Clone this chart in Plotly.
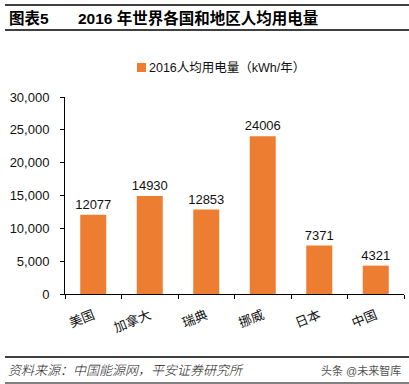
import plotly.graph_objects as go

categories = ["美国", "加拿大", "瑞典", "挪威", "日本", "中国"]
values = [12077, 14930, 12853, 24006, 7371, 4321]
series_name = "2016人均用电量（kWh/年）"
y_ticks = [0, 5000, 10000, 15000, 20000, 25000, 30000]

FONT = "Liberation Sans, Arial, Noto Sans CJK SC, sans-serif"
ORANGE = "#ED7D31"

W, H = 409, 384
ML, MR, MT, MB = 65, 5, 97, 90
PW, PH = W - ML - MR, H - MT - MB

def px(x):
    return (x - ML) / PW

def py(y):
    return (H - MB - y) / PH

fig = go.Figure()
fig.add_trace(go.Bar(
    x=categories, y=values, name=series_name,
    marker=dict(color=ORANGE, line=dict(width=0)),
    width=0.46,
    text=[str(v) for v in values], textposition="outside",
    textfont=dict(size=13, color="#111111"),
    constraintext="none",
    cliponaxis=False,
    showlegend=False,
))

fig.update_layout(
    width=W, height=H,
    margin=dict(l=ML, r=MR, t=MT, b=MB, autoexpand=False),
    paper_bgcolor="white", plot_bgcolor="white",
    font=dict(family=FONT, size=13, color="#111111"),
    showlegend=False,
    xaxis=dict(showline=True, linecolor="#000000", linewidth=1, ticks="outside",
               tickson="boundaries", ticklen=4, tickcolor="#000000",
               tickangle=-22, tickfont=dict(size=13), showgrid=False, automargin=False,
               ticklabelstandoff=8),
    yaxis=dict(range=[0, 30000], tickvals=y_ticks, tickformat=",", showline=True,
               linecolor="#000000", linewidth=1, ticks="outside", ticklen=4,
               tickcolor="#000000", showgrid=False, zeroline=False,
               tickfont=dict(size=13), ticklabelstandoff=8, automargin=False),
    bargap=0.5,
)

shapes = []
for y, w in [(5, 1.5), (30, 1.5), (357, 1.5), (383, 1.0)]:
    shapes.append(dict(type="line", xref="paper", yref="paper",
                       x0=px(5), x1=px(409), y0=py(y), y1=py(y),
                       line=dict(color="#000000", width=w)))
# legend swatch
shapes.append(dict(type="rect", xref="paper", yref="paper",
                   x0=px(137), x1=px(146), y0=py(63), y1=py(72),
                   fillcolor=ORANGE, line=dict(width=0)))
fig.update_layout(shapes=shapes)

ann = [
    dict(text="<b>图表5</b>", x=px(7), y=py(18), xanchor="left", yanchor="middle",
         font=dict(size=15.5, color="#000000")),
    dict(text="<b>2016 年世界各国和地区人均用电量</b>", x=px(76), y=py(18), xanchor="left",
         yanchor="middle", font=dict(size=15.5, color="#000000")),
    dict(text=series_name, x=px(147), y=py(67.5), xanchor="left", yanchor="middle",
         font=dict(size=12.5, color="#111111")),
    dict(text="<i>资料来源：中国能源网，平安证券研究所</i>", x=px(6), y=py(370), xanchor="left",
         yanchor="middle", font=dict(size=13, color="#1a1a1a", weight=300)),
    dict(text="头条 @未来智库", x=px(403), y=py(370), xanchor="right", yanchor="middle",
         font=dict(size=11, color="#555555")),
]
for a in ann:
    a.update(xref="paper", yref="paper", showarrow=False)
fig.update_layout(annotations=ann)

fig.write_html("out.html", config={"displayModeBar": False},
               post_script="document.body.style.margin='0';document.body.style.overflow='hidden';")
